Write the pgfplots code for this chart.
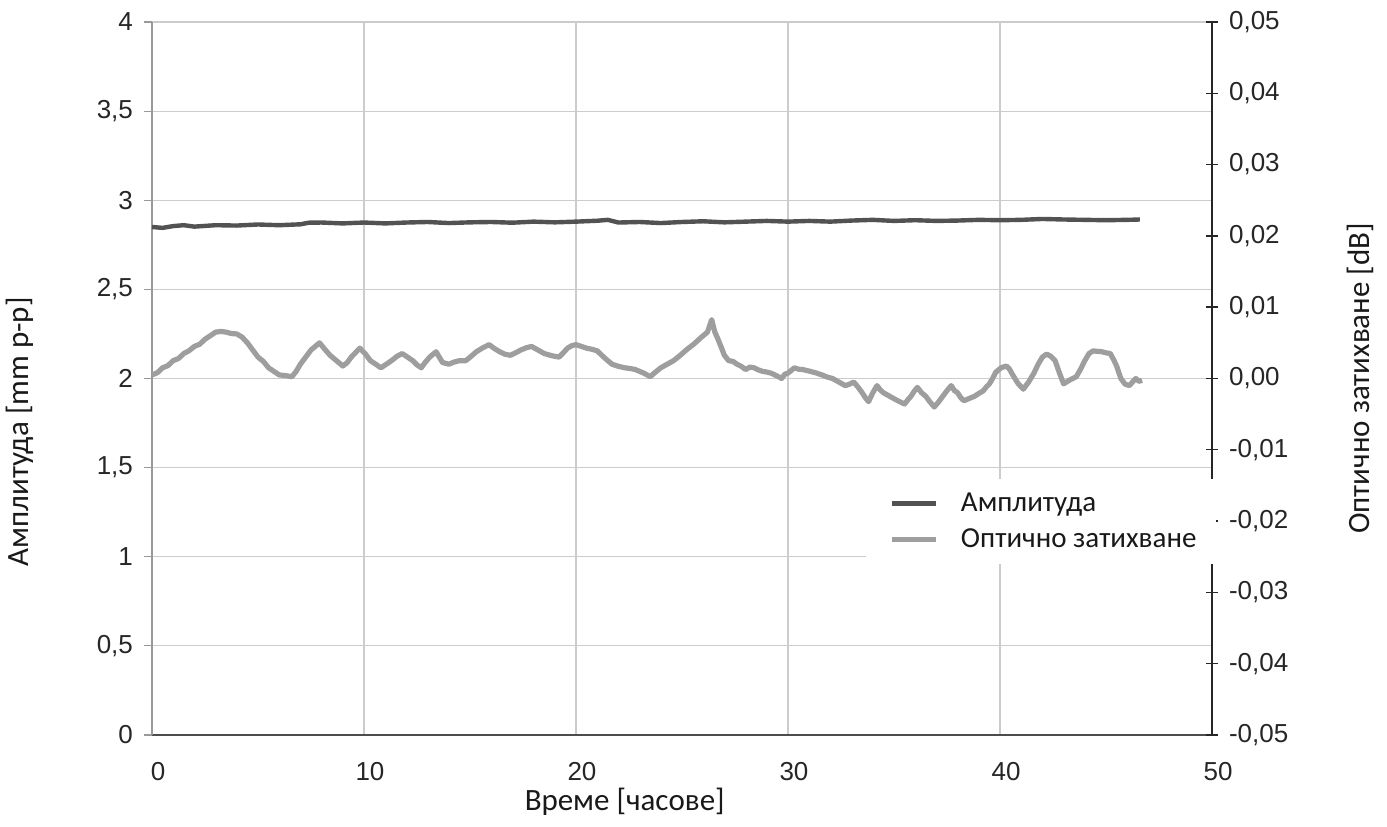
\documentclass[border=0pt]{standalone}
\usepackage{fontspec}
\setmainfont{Carlito}
\newfontfamily\tickfont{Liberation Sans}
\usepackage{pgfplots}
\usepackage{pgfplotstable}
\pgfplotsset{compat=1.18}

\pgfplotstableread{
x y
0 2.850
0.5 2.845
1 2.855
1.5 2.860
2 2.852
3 2.860
4 2.858
5 2.864
6 2.860
7 2.865
7.4 2.874
8 2.875
9 2.870
10 2.875
11 2.870
12 2.875
13 2.878
14 2.872
15 2.876
16 2.878
17 2.874
18 2.880
19 2.876
20 2.880
21 2.885
21.5 2.890
22 2.875
23 2.878
24 2.872
25 2.878
26 2.882
27 2.876
28 2.880
29 2.884
30 2.880
31 2.884
32 2.880
33 2.886
34 2.890
35 2.884
36 2.888
37 2.884
38 2.886
39 2.890
40 2.888
41 2.890
42 2.895
43 2.892
44 2.890
45 2.888
46 2.890
46.6 2.892
}\amplitude

\pgfplotstableread{
x y
0.0 0.0005
0.25 0.0008
0.5 0.0015
0.75 0.0018
1.0 0.0025
1.25 0.0028
1.5 0.0035
1.75 0.0039
2.0 0.0045
2.25 0.0048
2.5 0.0055
2.75 0.0060
3.0 0.0065
3.25 0.0066
3.5 0.0065
3.75 0.0063
4.0 0.00625
4.25 0.0058
4.5 0.0050
4.75 0.0040
5.0 0.0030
5.25 0.0024
5.5 0.0015
5.75 0.0010
6.0 0.0005
6.3 0.0004
6.6 0.00025
6.8 0.0010
7.0 0.0020
7.25 0.0030
7.5 0.0040
7.9 0.0050
8.15 0.0041
8.4 0.00325
8.7 0.0025
9.0 0.00175
9.2 0.0022
9.4 0.0030
9.8 0.00425
10.05 0.0035
10.3 0.0025
10.55 0.0020
10.8 0.0015
11.05 0.0020
11.3 0.0025
11.55 0.0031
11.8 0.0035
12.05 0.0030
12.3 0.0025
12.5 0.0019
12.7 0.0015
12.9 0.0023
13.1 0.0030
13.4 0.00375
13.7 0.00225
14.0 0.0020
14.25 0.0023
14.5 0.0025
14.8 0.0025
15.05 0.0031
15.3 0.00375
15.6 0.0043
15.9 0.00475
16.15 0.0042
16.4 0.00375
16.65 0.0034
16.9 0.00325
17.15 0.0036
17.4 0.0040
17.65 0.0043
17.9 0.0045
18.2 0.0040
18.5 0.0035
18.85 0.0032
19.2 0.0030
19.4 0.0036
19.6 0.00425
19.8 0.0046
20.0 0.00475
20.25 0.0045
20.5 0.00425
20.75 0.0041
21.0 0.003875
21.2 0.0033
21.4 0.00275
21.7 0.0020
22.0 0.0017
22.3 0.0015
22.55 0.0014
22.8 0.00125
23.0 0.0010
23.2 0.00075
23.5 0.00025
23.75 0.0009
24.0 0.0015
24.3 0.0020
24.6 0.0025
24.9 0.0032
25.2 0.0040
25.55 0.0048
25.9 0.00575
26.2 0.0065
26.4 0.00825
26.55 0.0065
26.7 0.0055
27.0 0.00325
27.2 0.0025
27.4 0.0024
27.6 0.0020
27.8 0.0017
28.0 0.00125
28.2 0.0016
28.4 0.0015
28.6 0.0012
28.8 0.0010
29.0 0.0009
29.2 0.00075
29.45 0.0004
29.7 0.0000
29.85 0.0006
30.0 0.00075
30.3 0.0015
30.5 0.0013
30.7 0.00125
31.05 0.0010
31.3 0.0008
31.6 0.0005
31.85 0.0002
32.1 0.0000
32.4 -0.0005
32.7 -0.0010
32.9 -0.0008
33.1 -0.0005
33.3 -0.0012
33.5 -0.0020
33.65 -0.0027
33.8 -0.00325
34.0 -0.0020
34.2 -0.0010
34.35 -0.0016
34.5 -0.0020
34.8 -0.0025
35.1 -0.0030
35.3 -0.0033
35.5 -0.00358
35.65 -0.0030
35.8 -0.0025
35.95 -0.0018
36.1 -0.00125
36.3 -0.0020
36.5 -0.0025
36.7 -0.0033
36.9 -0.0040
37.1 -0.0033
37.3 -0.0025
37.5 -0.0017
37.7 -0.0010
37.85 -0.0017
38.0 -0.0020
38.15 -0.0027
38.3 -0.003125
38.55 -0.0028
38.8 -0.0025
39.0 -0.0021
39.2 -0.00175
39.35 -0.0012
39.5 -0.00075
39.65 0.0000
39.8 0.000875
40.05 0.0015
40.3 0.00175
40.45 0.0013
40.6 0.0005
40.85 -0.0007
41.1 -0.0015
41.35 -0.0005
41.6 0.00075
41.8 0.0020
42.0 0.0030
42.2 0.003425
42.4 0.0031
42.6 0.0025
42.8 0.0008
43.0 -0.00075
43.3 -0.0002
43.6 0.00025
43.8 0.0013
44.0 0.0025
44.2 0.0035
44.4 0.003875
44.6 0.0038
44.8 0.00375
45.0 0.0036
45.2 0.0035
45.35 0.0027
45.5 0.00175
45.7 0.0000
45.9 -0.0008
46.1 -0.0010
46.25 -0.0005
46.4 0.0000
46.55 -0.0004
46.7 -0.00025
}\optical

\begin{document}
\begin{tikzpicture}
\pgfplotsset{
  common/.style={
    width=530pt, height=356.5pt, scale only axis,
    xmin=0, xmax=50,
    scaled x ticks=false, scaled y ticks=false,
    ticklabel style={font=\tickfont\fontsize{13}{14}\selectfont, text=black!85},
    /pgf/number format/assume math mode=true,
    /pgf/number format/use comma,
    label style={font=\fontsize{15.5}{17}\selectfont, text=black!90},
  }
}
\begin{axis}[common, name=main,
  ymin=0, ymax=4,
  xtick={0,10,20,30,40,50},
  ytick={0,0.5,1,1.5,2,2.5,3,3.5,4},
  grid=major,
  grid style={black!20, line width=0.6pt},
  axis x line*=bottom, axis y line*=left,
  x axis line style={black!70, line width=0.9pt},
  y axis line style={black!40, line width=0.9pt},
  tick align=outside,
  xtick style={draw=none},
  ytick style={black!40, line width=0.6pt},
  major tick length=4pt,
  xticklabel style={yshift=-6pt, xshift=3pt},
  yticklabel style={xshift=-2pt},
  xlabel={Време [часове]},
  ylabel={Амплитуда [mm p-p]},
  xlabel style={at={(axis description cs:0.446,-0.093)}, anchor=center},
  ylabel style={at={(axis description cs:-0.1245,0.425)}, anchor=center},
]
\addplot[black!68, line width=2.2pt, line join=round] table {\amplitude};
\end{axis}
\begin{axis}[common,
  ymin=-0.05, ymax=0.05,
  ytick={-0.05,-0.04,-0.03,-0.02,-0.01,0,0.01,0.02,0.03,0.04,0.05},
  axis y line*=right, axis x line=none,
  y axis line style={black!85, line width=0.9pt},
  ytick style={black!85, line width=0.7pt},
  tick align=center,
  major tick length=6pt,
  yticklabel style={/pgf/number format/fixed, /pgf/number format/fixed zerofill, /pgf/number format/precision=2, xshift=2pt},
  ylabel={Оптично затихване [dB]},
  ylabel style={at={(axis description cs:1.1396,0.5)}, anchor=center},
  legend style={at={(axis description cs:0.673,0.36)}, anchor=north west,
    fill=white, draw=none, font=\fontsize{14.5}{17}\selectfont,
    inner xsep=8pt, inner ysep=5pt, row sep=3pt, text=black!90},
  legend cell align=left,
  legend image code/.code={\path (-4pt,0pt) (31pt,0pt); \draw[#1] (0pt,0pt) -- (22pt,0pt);},
]
\addlegendimage{black!68, line width=2.2pt}
\addlegendentry{Амплитуда}
\addplot[black!38, line width=2.6pt, line join=round] table {\optical};
\addlegendentry{Оптично затихване}
\end{axis}
\pgfresetboundingbox
\path[use as bounding box] ([shift={(-76pt,-46pt)}]main.south west) rectangle ([shift={(87.5pt,11pt)}]main.north east);
\end{tikzpicture}
\end{document}
